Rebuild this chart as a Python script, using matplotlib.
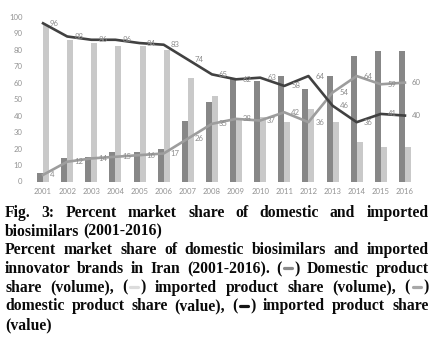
import matplotlib
matplotlib.use("Agg")
import matplotlib.pyplot as plt
from matplotlib.lines import Line2D
import numpy as np

# ---- data -------------------------------------------------------------
years = ["2001", "2002", "2003", "2004", "2005", "2006", "2007", "2008",
         "2009", "2010", "2011", "2012", "2013", "2014", "2015", "2016"]
domestic_volume = [5, 14, 15, 18, 18, 20, 37, 48, 62, 61, 64, 56, 64, 76, 79, 79]
imported_volume = [95, 86, 84, 82, 82, 80, 63, 52, 38, 39, 36, 44, 36, 24, 21, 21]
domestic_value = [4, 12, 14, 15, 16, 17, 26, 35, 38, 37, 42, 36, 54, 64, 59, 60]
imported_value = [96, 88, 86, 86, 84, 83, 74, 65, 62, 63, 58, 64, 46, 36, 41, 40]
y_ticks = [0, 10, 20, 30, 40, 50, 60, 70, 80, 90, 100]

W, H = 438, 338
fig = plt.figure(figsize=(W / 100, H / 100), dpi=100)
fig.patch.set_facecolor("white")

# ---- chart ------------------------------------------------------------
ax = fig.add_axes([31 / W, 1 - 181.5 / H, 386 / W, 164.8 / H])
x = np.arange(len(years))
bw = 0.25
ax.bar(x - bw / 2, domestic_volume, bw, color="#878787", zorder=1)
ax.bar(x + bw / 2, imported_volume, bw, color="#c9c9c9", zorder=1)
ax.plot(x, domestic_value, color="#9d9d9d", lw=1.9, zorder=2,
        solid_joinstyle="round")
ax.plot(x, imported_value, color="#414141", lw=1.9, zorder=2,
        solid_joinstyle="round")

lab_font = dict(family="Lato", fontsize=5.6, color="#8c8c8c")
for xi, v in zip(x, domestic_value):
    ax.annotate(str(v), (xi, v), xytext=(5, 0), textcoords="offset points",
                ha="left", va="center", zorder=3, **lab_font)
for xi, v in zip(x, imported_value):
    ax.annotate(str(v), (xi, v), xytext=(5, 0), textcoords="offset points",
                ha="left", va="center", zorder=3, **lab_font)

ax.set_xlim(-0.5, len(years) - 0.5)
ax.set_ylim(0, 100)
ax.set_xticks(x)
ax.set_xticklabels(years)
ax.set_yticks(y_ticks)
ax.set_yticklabels([str(t) for t in y_ticks])
ax.tick_params(length=0, labelsize=5.6, labelcolor="#939393")
ax.tick_params(axis="y", pad=6)
ax.tick_params(axis="x", pad=5)
for lab in ax.get_xticklabels() + ax.get_yticklabels():
    lab.set_family("Lato")
for s in ax.spines.values():
    s.set_visible(False)
ax.set_facecolor("none")

# ---- caption (justified, bold serif) ----------------------------------
SYM = {"<dv>": "#8a8a8a", "<iv>": "#dcdcdc", "<dval>": "#a8a8a8", "<ival>": "#151515"}
paragraphs = [
    ["Fig. 3: Percent market share of domestic and imported",
     "biosimilars (2001-2016)"],
    ["Percent market share of domestic biosimilars and imported",
     "innovator brands in Iran (2001-2016). <dv> Domestic product",
     "share (volume), <iv> imported product share (volume), <dval>",
     "domestic product share (value), <ival> imported product share",
     "(value)"],
]
cap_font = dict(family="Liberation Serif", fontweight="bold", fontsize=11.3,
                color="#0a0a0a")
left_px, right_px = 5.0, 428.5
base0, step = 216.8, 18.7
renderer = fig.canvas.get_renderer()


def px(xp, yp):
    return xp / W, 1 - yp / H


def measure(s):
    t = fig.text(0, 0, s, **cap_font)
    w = t.get_window_extent(renderer).width
    t.remove()
    return w


paren_w = measure("(")
close_w = measure(")")
sym_gap = 13.0
space_w = measure("a a") - measure("aa")


def token_width(tok):
    if tok in SYM:
        return paren_w + sym_gap + close_w
    return measure(tok)


def draw_token(tok, xp, yp):
    if tok in SYM:
        fig.text(*px(xp, yp), "(", va="baseline", ha="left", **cap_font)
        x0 = xp + paren_w + 2.6
        x1 = xp + paren_w + sym_gap - 2.6
        ym = yp - 4.8
        fig.add_artist(Line2D([x0 / W, x1 / W], [1 - ym / H, 1 - ym / H],
                              transform=fig.transFigure, color=SYM[tok],
                              lw=2.3, solid_capstyle="round"))
        fig.text(*px(xp + paren_w + sym_gap, yp), ")", va="baseline",
                 ha="left", **cap_font)
    else:
        fig.text(*px(xp, yp), tok, va="baseline", ha="left", **cap_font)


line_no = 0
for para in paragraphs:
    for i, line in enumerate(para):
        toks = line.split(" ")
        widths = [token_width(t) for t in toks]
        last = i == len(para) - 1
        if last or len(toks) == 1:
            gap = space_w
        else:
            gap = (right_px - left_px - sum(widths)) / (len(toks) - 1)
        yb = base0 + line_no * step
        xp = left_px
        for t, w in zip(toks, widths):
            draw_token(t, xp, yb)
            xp += w + gap
        line_no += 1

fig.savefig("out.png", dpi=100, facecolor="white")
